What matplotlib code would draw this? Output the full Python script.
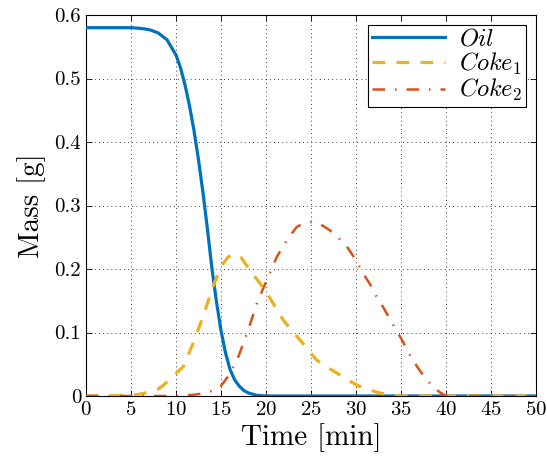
import matplotlib
matplotlib.use('agg')
import matplotlib.pyplot as plt

plt.rcParams['font.family'] = 'serif'
plt.rcParams['font.serif'] = ['cmr10', 'DejaVu Serif']
plt.rcParams['mathtext.fontset'] = 'cm'
plt.rcParams['axes.formatter.use_mathtext'] = True

# values
t_oil = [0, 5, 6, 7, 8, 9, 10, 10.5, 11, 11.5, 12, 12.5, 13, 13.5, 14, 14.5, 15, 15.5, 16, 16.5, 17, 17.5, 18, 19, 20, 50]
m_oil = [0.580, 0.580, 0.579, 0.577, 0.572, 0.561, 0.537, 0.517, 0.490, 0.457, 0.418, 0.372, 0.320, 0.262, 0.200, 0.148, 0.103, 0.068, 0.042, 0.026, 0.016, 0.009, 0.005, 0.001, 0.0, 0.0]

t_c1 = [0, 5, 6, 7, 8, 8.6, 9.5, 10.8, 11.9, 13.0, 14.1, 15.1, 15.8, 16.5, 17.2, 18.2, 19.2, 20.1, 21.0, 21.9, 22.8, 23.8, 24.7, 25.6, 26.7, 27.9, 29.0, 30.1, 31.2, 32.3, 33.5, 35, 50]
m_c1 = [0.0, 0.001, 0.003, 0.006, 0.011, 0.017, 0.029, 0.046, 0.083, 0.125, 0.172, 0.206, 0.219, 0.224, 0.219, 0.198, 0.180, 0.162, 0.141, 0.120, 0.104, 0.088, 0.072, 0.057, 0.046, 0.036, 0.026, 0.017, 0.011, 0.006, 0.002, 0.0, 0.0]

t_c2 = [0, 10, 12, 13, 14, 14.9, 15.9, 16.8, 17.9, 19.0, 20.1, 21.2, 22.3, 23.4, 24.2, 25.1, 26.1, 27.1, 28.0, 29.0, 30.0, 30.8, 31.6, 32.3, 33.1, 33.8, 34.6, 35.3, 36.0, 36.8, 37.5, 38.2, 38.8, 39.3, 40.0, 50]
m_c2 = [0.0, 0.0, 0.002, 0.004, 0.008, 0.014, 0.033, 0.057, 0.099, 0.146, 0.183, 0.219, 0.245, 0.266, 0.272, 0.274, 0.270, 0.261, 0.250, 0.235, 0.214, 0.193, 0.175, 0.156, 0.138, 0.120, 0.101, 0.083, 0.064, 0.046, 0.032, 0.020, 0.012, 0.006, 0.0, 0.0]

fig = plt.figure(figsize=(5.47, 4.62), dpi=100)
ax = fig.add_axes([86/547, 1 - 396/462, 450/547, 381/462])

ax.plot(t_oil, m_oil, color='#0072BD', lw=2.3, label='$Oil$', zorder=3)
ax.plot(t_c1, m_c1, color='#EDB120', lw=2.3, ls=(0, (4, 3.5)), label='$Coke_1$', zorder=3)
ax.plot(t_c2, m_c2, color='#D95319', lw=1.8, ls=(0, (5, 4, 0.6, 4)), label='$Coke_2$', zorder=3)

ax.set_xlim(0, 50)
ax.set_ylim(0, 0.6)
ax.set_xticks(range(0, 51, 5))
ax.set_yticks([0, 0.1, 0.2, 0.3, 0.4, 0.5, 0.6])
ax.set_yticklabels(['0', '0.1', '0.2', '0.3', '0.4', '0.5', '0.6'])
ax.tick_params(direction='in', top=True, right=True, labelsize=15, length=4, width=0.6)
ax.grid(True, color='black', ls=(0, (1, 4)), lw=0.6)
for s in ax.spines.values():
    s.set_linewidth(0.8)

ax.set_xlabel('Time [min]', fontsize=21, labelpad=3)
ax.set_ylabel('Mass [g]', fontsize=21, labelpad=6)

leg = ax.legend(loc='upper right', fontsize=17.5, handlelength=3.0, labelspacing=0.0,
                borderpad=0.15, handletextpad=0.6, borderaxespad=0.42,
                fancybox=False, framealpha=1, edgecolor='black')
leg.get_frame().set_linewidth(0.8)

plt.savefig('out.png', dpi=100)
